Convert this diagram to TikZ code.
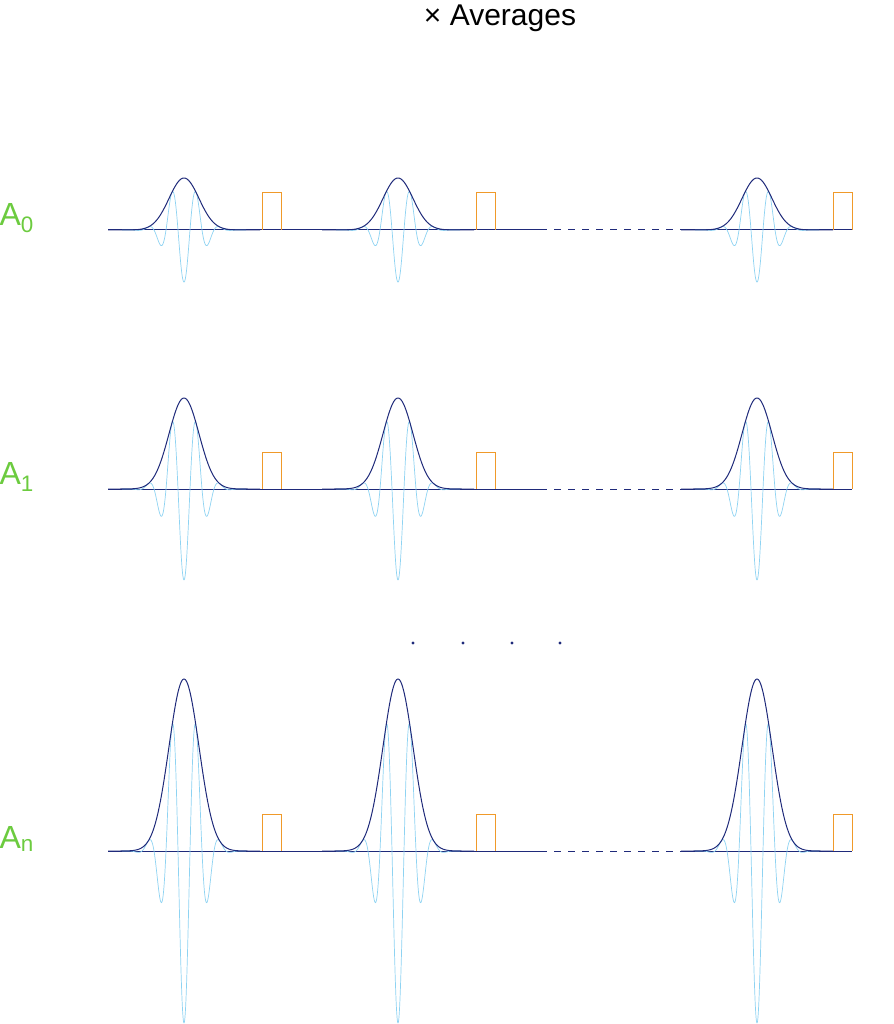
\documentclass[tikz,border=0pt]{standalone}
\usepackage{fontspec}
\setmainfont{Liberation Sans}
\definecolor{navy}{HTML}{1F2A7A}
\definecolor{sky}{HTML}{8ED3F2}
\definecolor{amber}{HTML}{F09A2A}
\definecolor{leaf}{HTML}{6CCB3F}
\begin{document}
\begin{tikzpicture}[x=1pt,y=-1pt,
    env/.style={navy,line width=1pt},
    wave/.style={sky,line width=0.7pt},
    gate/.style={amber,line width=1pt},
    base/.style={navy,line width=1pt},
    amp label/.style={leaf,font=\fontsize{32}{32}\selectfont,anchor=west}]
    \useasboundingbox (0,0) rectangle (893,1024);
    \node[font=\fontsize{30}{30}\selectfont] (title) at (500,18) {× Averages};
    % one row per amplitude: baseline / peak height / label
    \foreach \b/\a/\lab [count=\i] in {230/52/0,489/91/1,851/172/n}{
      \node[amp label] (lab\i) at (-4,\b-12) {A\textsubscript{\lab}};
      \coordinate (s\i) at (108,\b);
      \coordinate (d\i) at (540,\b);
      \coordinate (e\i) at (680,\b);
      \coordinate (f\i) at (852,\b);
      \draw[base] (s\i) -- (d\i);
      \draw[base,dashed,dash pattern=on 7pt off 7pt] (d\i) -- (e\i);
      \draw[base] (e\i) -- (f\i);
      \foreach \c/\g in {184/262,398/476,757/833}{
        \draw[wave] plot[domain=\c-62:\c+62,samples=300,smooth]
          (\x,{\b+\a*exp(-((\x-\c)^2)/450)*cos(15*(\x-\c))});
        \draw[env] plot[domain=\c-76:\c+76,samples=150,smooth]
          (\x,{\b-\a*exp(-((\x-\c)^2)/450)});
        \draw[gate] (\g,\b) -- (\g,\b-37) -- (\g+19,\b-37) -- (\g+19,\b);
      }
    }
    % dots between rows
    \foreach \x in {413,463,512,560}
      \fill[navy] (\x,643) circle (1.6);
\end{tikzpicture}
\end{document}
